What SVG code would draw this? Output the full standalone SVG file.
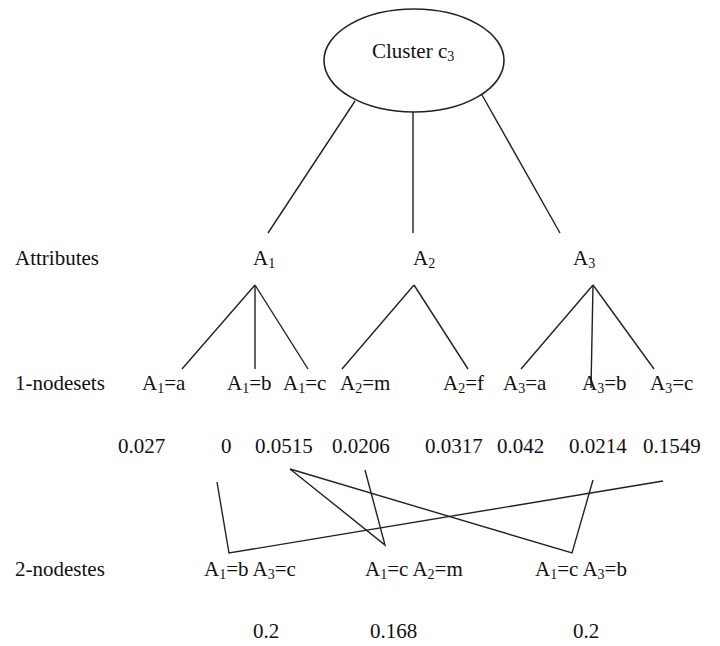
<svg xmlns="http://www.w3.org/2000/svg" width="720" height="646" viewBox="0 0 720 646">
<style>
text{font-family:"Liberation Serif","Times New Roman",serif;font-size:21px;fill:#111}
.s{font-size:14px}
.c line,.c polyline{stroke:#222;stroke-width:1.4;fill:none}
</style>
<rect width="720" height="646" fill="#fff"/>
<g id="connectors" class="c">
<line x1="355" y1="101" x2="268" y2="233"/>
<line x1="413" y1="112" x2="413" y2="233"/>
<line x1="482" y1="95" x2="560" y2="233"/>
<line x1="255" y1="285" x2="182" y2="369"/>
<line x1="255" y1="285" x2="255" y2="369"/>
<line x1="255" y1="285" x2="308" y2="369"/>
<line x1="414" y1="285" x2="342" y2="369"/>
<line x1="414" y1="285" x2="468" y2="369"/>
<line x1="593" y1="285" x2="521" y2="369"/>
<line x1="593" y1="285" x2="591" y2="388"/>
<line x1="593" y1="285" x2="654" y2="369"/>
<polyline points="217,482 229,553 663,481"/>
<polyline points="290,469 385,545 365,470"/>
<polyline points="290,469 572,553 593,480"/>
</g>
<g id="cluster">
<ellipse cx="414" cy="60.5" rx="90" ry="51.5" fill="none" stroke="#222" stroke-width="1.6"/>
<text x="372" y="58">Cluster c<tspan class="s" dy="3">3</tspan></text>
</g>
<g id="row-labels">
<text x="15" y="265">Attributes</text>
<text x="15" y="390">1-nodesets</text>
<text x="15" y="576">2-nodestes</text>
</g>
<g id="attr-A1"><text x="253" y="265">A<tspan class="s" dy="3">1</tspan></text></g>
<g id="attr-A2"><text x="413" y="265">A<tspan class="s" dy="3">2</tspan></text></g>
<g id="attr-A3"><text x="573" y="265">A<tspan class="s" dy="3">3</tspan></text></g>
<g id="n-A1a"><text x="142" y="390">A<tspan class="s" dy="3">1</tspan><tspan dy="-3">=a</tspan></text><text x="118" y="453">0.027</text></g>
<g id="n-A1b"><text x="227" y="390">A<tspan class="s" dy="3">1</tspan><tspan dy="-3">=b</tspan></text><text x="221" y="453">0</text></g>
<g id="n-A1c"><text x="283" y="390">A<tspan class="s" dy="3">1</tspan><tspan dy="-3">=c</tspan></text><text x="255" y="453">0.0515</text></g>
<g id="n-A2m"><text x="340" y="390">A<tspan class="s" dy="3">2</tspan><tspan dy="-3">=m</tspan></text><text x="332" y="453">0.0206</text></g>
<g id="n-A2f"><text x="443" y="390">A<tspan class="s" dy="3">2</tspan><tspan dy="-3">=f</tspan></text><text x="425" y="453">0.0317</text></g>
<g id="n-A3a"><text x="503" y="390">A<tspan class="s" dy="3">3</tspan><tspan dy="-3">=a</tspan></text><text x="497" y="453">0.042</text></g>
<g id="n-A3b"><text x="582" y="390">A<tspan class="s" dy="3">3</tspan><tspan dy="-3">=b</tspan></text><text x="569" y="453">0.0214</text></g>
<g id="n-A3c"><text x="650" y="390">A<tspan class="s" dy="3">3</tspan><tspan dy="-3">=c</tspan></text><text x="643" y="453">0.1549</text></g>
<g id="n2-A1b-A3c"><text x="204" y="576">A<tspan class="s" dy="3">1</tspan><tspan dy="-3">=b A</tspan><tspan class="s" dy="3">3</tspan><tspan dy="-3">=c</tspan></text><text x="253" y="638">0.2</text></g>
<g id="n2-A1c-A2m"><text x="365" y="576">A<tspan class="s" dy="3">1</tspan><tspan dy="-3">=c A</tspan><tspan class="s" dy="3">2</tspan><tspan dy="-3">=m</tspan></text><text x="370" y="638">0.168</text></g>
<g id="n2-A1c-A3b"><text x="535" y="576">A<tspan class="s" dy="3">1</tspan><tspan dy="-3">=c A</tspan><tspan class="s" dy="3">3</tspan><tspan dy="-3">=b</tspan></text><text x="573" y="638">0.2</text></g>
</svg>
